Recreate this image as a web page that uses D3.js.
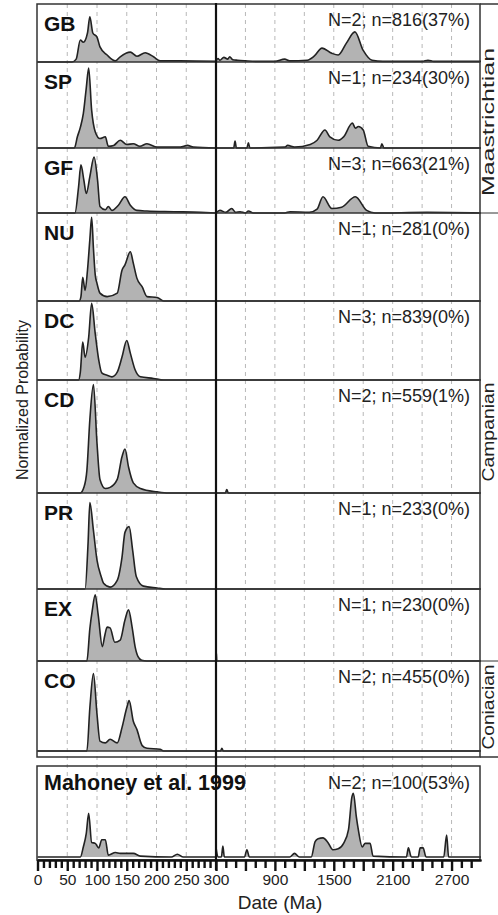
<!DOCTYPE html>
<html>
<head>
<meta charset="utf-8">
<script src="https://cdn.jsdelivr.net/npm/d3@7"></script>
<style>
  body { margin: 0; background: #fff; }
  svg { display: block; font-family: "Liberation Sans", Arial, sans-serif; }
</style>
</head>
<body>
<div id="chart"></div>
<script>
// Panel names, counts and stages
const panelNames = ["GB", "SP", "GF", "NU", "DC", "CD", "PR", "EX", "CO"];
const panelCounts = ["N=2; n=816(37%)", "N=1; n=234(30%)", "N=3; n=663(21%)",
  "N=1; n=281(0%)", "N=3; n=839(0%)", "N=2; n=559(1%)", "N=1; n=233(0%)",
  "N=1; n=230(0%)", "N=2; n=455(0%)"];
const stageNames = ["Maastrichtian", "Campanian", "Coniacian"];
const stageFirst = [0, 3, 8];
const stageLast = [2, 7, 8];
const refName = "Mahoney et al. 1999";
const refCount = "N=2; n=100(53%)";

// x ticks
const leftLabels = [0, 50, 100, 150, 200, 250, 300];
const rightLabels = [900, 1500, 2100, 2700];

// probability curves: [age (Ma), normalized height]
const gbLeft = [[0,0],[58,0],[65,0.05],[72,0.38],[77,0.34],[84,0.5],[88,0.78],[93,0.5],[100,0.43],[105,0.26],[117,0.12],[131,0.02],[139,0.09],[156,0.17],[167,0.1],[181,0.16],[195,0.09],[206,0.02],[240,0.02],[300,0.01]];
const gbRight = [[300,0.01],[320,0.06],[340,0.03],[380,0.08],[420,0.05],[440,0.09],[470,0.04],[520,0.03],[600,0.02],[720,0.01],[900,0.01],[1000,0.05],[1050,0.02],[1230,0.03],[1300,0.1],[1380,0.24],[1480,0.15],[1545,0.12],[1630,0.33],[1715,0.52],[1800,0.2],[1890,0.03],[2000,0.01],[2400,0.01],[2460,0.03],[2520,0.01],[3000,0.01]];
const spLeft = [[0,0],[62,0],[67,0.13],[72,0.24],[77,0.4],[82,0.7],[86,0.93],[91,0.44],[97,0.19],[105,0.11],[114,0.13],[119,0.02],[128,0.03],[139,0.09],[150,0.04],[161,0.05],[172,0.02],[184,0.05],[201,0.01],[240,0.01],[252,0.03],[262,0.01],[300,0]];
const spRight = [[300,0],[480,0],[494,0.08],[508,0],[615,0],[630,0.06],[645,0],[1000,0.01],[1030,0.03],[1100,0.01],[1260,0.04],[1330,0.09],[1410,0.21],[1460,0.13],[1545,0.09],[1600,0.13],[1690,0.29],[1720,0.23],[1750,0.25],[1800,0.21],[1850,0.02],[1975,0],[1990,0.05],[2010,0],[3000,0]];
const gfLeft = [[0,0],[63,0],[69,0.4],[73,0.74],[78,0.5],[82,0.3],[88,0.56],[95,0.86],[101,0.5],[105,0.1],[114,0.05],[119,0.1],[125,0.04],[136,0.12],[147,0.25],[156,0.12],[167,0.04],[184,0.03],[229,0.02],[274,0.01],[300,0]];
const gfRight = [[300,0],[340,0.04],[400,0.01],[460,0.07],[500,0.01],[545,0.02],[600,0],[630,0.03],[680,0],[1000,0],[1055,0.02],[1250,0.01],[1330,0.06],[1390,0.25],[1480,0.07],[1580,0.09],[1720,0.25],[1835,0.04],[1920,0],[2450,0.01],[3000,0]];
const nuLeft = [[0,0],[70,0],[73,0.05],[76,0.27],[80,0.12],[84,0.35],[88,0.7],[91,0.95],[94,0.6],[97,0.3],[100,0.2],[105,0.09],[117,0.05],[134,0.09],[142,0.35],[147,0.41],[156,0.56],[161,0.43],[167,0.26],[176,0.16],[184,0.05],[201,0.04],[212,0],[300,0]];
const nuRight = [[300,0],[3000,0]];
const dcLeft = [[0,0],[69,0],[72,0.1],[76,0.48],[80,0.29],[86,0.54],[91,0.97],[97,0.59],[103,0.25],[108,0.09],[117,0.06],[125,0.04],[134,0.1],[142,0.29],[150,0.5],[156,0.34],[164,0.13],[173,0.04],[195,0.02],[212,0],[300,0]];
const dcRight = [[300,0],[3000,0]];
const cdLeft = [[0,0],[72,0],[78,0.05],[83,0.2],[88,0.65],[94,0.96],[100,0.44],[105,0.12],[114,0.04],[122,0.05],[134,0.12],[142,0.32],[147,0.39],[153,0.23],[161,0.09],[173,0.04],[201,0.01],[220,0],[300,0]];
const cdRight = [[300,0],[395,0],[410,0.03],[425,0],[3000,0]];
const prLeft = [[0,0],[80,0],[85,0.48],[88,0.9],[94,0.61],[100,0.3],[107,0.13],[111,0.06],[122,0.02],[134,0.09],[142,0.33],[147,0.59],[154,0.65],[160,0.4],[166,0.13],[178,0.03],[201,0.01],[215,0],[300,0]];
const prRight = [[300,0],[3000,0]];
const exLeft = [[0,0],[83,0],[88,0.45],[92,0.7],[97,0.92],[102,0.64],[109,0.2],[113,0.35],[117,0.47],[122,0.46],[130,0.26],[139,0.29],[147,0.57],[153,0.71],[159,0.47],[164,0.2],[169,0.06],[175,0.01],[184,0],[300,0]];
const exRight = [[300,0],[303,0.12],[308,0],[3000,0]];
const coLeft = [[0,0],[83,0],[88,0.48],[94,0.86],[100,0.41],[105,0.11],[114,0.09],[122,0.13],[134,0.09],[142,0.26],[150,0.48],[154,0.56],[161,0.33],[167,0.24],[176,0.06],[184,0.03],[206,0.02],[212,0],[300,0]];
const coRight = [[300,0],[345,0],[360,0.03],[375,0],[3000,0]];
const mahLeft = [[0,0],[72,0],[77,0.11],[82,0.26],[86,0.48],[91,0.16],[97,0.15],[103,0.1],[108,0.19],[114,0.19],[119,0.02],[131,0.05],[139,0.04],[161,0.04],[173,0.01],[225,0],[235,0.03],[245,0],[300,0]];
const mahRight = [[300,0.11],[320,0],[355,0],[370,0.12],[385,0],[590,0],[615,0.08],[640,0],[1050,0],[1100,0.04],[1150,0],[1270,0],[1310,0.17],[1340,0.2],[1390,0.21],[1440,0.16],[1490,0.08],[1545,0.09],[1600,0.15],[1650,0.3],[1685,0.66],[1700,0.7],[1730,0.44],[1750,0.3],[1790,0.11],[1820,0.15],[1870,0.15],[1900,0.01],[2240,0],[2260,0.1],[2290,0],[2360,0],[2380,0.1],[2410,0.1],[2440,0],[2620,0],[2650,0.24],[2670,0],[3000,0]];

const leftSeries = [gbLeft, spLeft, gfLeft, nuLeft, dcLeft, cdLeft, prLeft, exLeft, coLeft];
const rightSeries = [gbRight, spRight, gfRight, nuRight, dcRight, cdRight, prRight, exRight, coRight];

// Layout
const width = 498, height = 915;
const x0 = 37, xDiv = 216, x1 = 481, frameRight = 480, stageRight = 498;
const panelEdges = [4, 62, 148, 213, 301, 380, 493, 589, 661, 757];
const refTop = 766, refBase = 857, axisY = 860;

const xLeft = d3.scaleLinear().domain([0, 300]).range([x0 + 0.5, xDiv]);
const xRight = d3.scaleLinear().domain([300, 3000]).range([xDiv, x1]);

const svg = d3.select("#chart").append("svg")
  .attr("width", width).attr("height", height);

// Dashed grid lines
const grid = svg.append("g").attr("stroke", "#b8b8b8").attr("stroke-width", 1)
  .attr("stroke-dasharray", "4,4");
d3.range(50, 300, 50).forEach(v => {
  grid.append("line").attr("x1", xLeft(v)).attr("x2", xLeft(v))
    .attr("y1", panelEdges[0]).attr("y2", axisY);
});
d3.range(600, 3000, 300).forEach(v => {
  grid.append("line").attr("x1", xRight(v)).attr("x2", xRight(v))
    .attr("y1", panelEdges[0]).attr("y2", axisY);
});

function drawCurves(g, left, right, top, base) {
  const y = d3.scaleLinear().domain([0, 1]).range([base, top]);
  const areaL = d3.area().x(d => xLeft(d[0])).y0(base).y1(d => y(d[1])).curve(d3.curveMonotoneX);
  const lineL = d3.line().x(d => xLeft(d[0])).y(d => y(d[1])).curve(d3.curveMonotoneX);
  const areaR = d3.area().x(d => xRight(d[0])).y0(base).y1(d => y(d[1])).curve(d3.curveMonotoneX);
  const lineR = d3.line().x(d => xRight(d[0])).y(d => y(d[1])).curve(d3.curveMonotoneX);
  [[left, areaL, lineL], [right, areaR, lineR]].forEach(([data, a, l]) => {
    g.append("path").attr("d", a(data)).attr("fill", "#b3b3b3");
    g.append("path").attr("d", l(data)).attr("fill", "none")
      .attr("stroke", "#222").attr("stroke-width", 1.6).attr("stroke-linejoin", "round");
  });
}

// Upper panels
panelNames.forEach((name, i) => {
  const top = panelEdges[i];
  let base = panelEdges[i + 1];
  if (i === panelNames.length - 1) base = base - 6;
  const g = svg.append("g");
  drawCurves(g, leftSeries[i], rightSeries[i], top, base);
  if (i === panelNames.length - 1) {
    g.append("line").attr("x1", x0).attr("x2", frameRight).attr("y1", base).attr("y2", base)
      .attr("stroke", "#333").attr("stroke-width", 1.5);
  }
  g.append("text").attr("x", 44).attr("y", top + 27)
    .attr("font-size", 21).attr("font-weight", "bold").attr("fill", "#111").text(name);
  g.append("text").attr("x", 470).attr("y", top + 22).attr("text-anchor", "end")
    .attr("font-size", 18).attr("fill", "#222").text(panelCounts[i]);
});

// Reference panel
const gRef = svg.append("g");
drawCurves(gRef, mahLeft, mahRight, refTop, refBase);
gRef.append("text").attr("x", 44).attr("y", refTop + 24)
  .attr("font-size", 21.5).attr("font-weight", "bold").attr("fill", "#111").text(refName);
gRef.append("text").attr("x", 470).attr("y", refTop + 23).attr("text-anchor", "end")
  .attr("font-size", 18).attr("fill", "#222").text(refCount);

// Frames
const frame = svg.append("g").attr("stroke", "#333").attr("stroke-width", 1.5).attr("fill", "none");
frame.append("rect").attr("x", x0).attr("y", panelEdges[0])
  .attr("width", frameRight - x0).attr("height", panelEdges[9] - panelEdges[0]);
panelEdges.slice(1, 9).forEach(e => {
  frame.append("line").attr("x1", x0).attr("x2", frameRight).attr("y1", e).attr("y2", e);
});
frame.append("rect").attr("x", x0).attr("y", refTop)
  .attr("width", frameRight - x0).attr("height", axisY - refTop);
// stage column
frame.append("line").attr("x1", frameRight).attr("x2", stageRight + 2)
  .attr("y1", panelEdges[0]).attr("y2", panelEdges[0]);
frame.append("line").attr("x1", frameRight).attr("x2", stageRight + 2)
  .attr("y1", panelEdges[9]).attr("y2", panelEdges[9]);
const stageCenters = [122, 432, 707];
const stageLengths = [148, 99, 85];
stageNames.forEach((s, i) => {
  const top = panelEdges[stageFirst[i]];
  if (i > 0) {
    frame.append("line").attr("x1", frameRight).attr("x2", stageRight + 2)
      .attr("y1", top).attr("y2", top).attr("stroke-width", 1);
  }
  svg.append("text")
    .attr("transform", `translate(494,${stageCenters[i]}) rotate(-90)`)
    .attr("text-anchor", "middle").attr("font-size", 16.5).attr("fill", "#222")
    .attr("textLength", stageLengths[i]).attr("lengthAdjust", "spacingAndGlyphs")
    .text(s);
});

// Break divider
svg.append("line").attr("x1", xDiv).attr("x2", xDiv)
  .attr("y1", panelEdges[0] - 1).attr("y2", axisY + 10)
  .attr("stroke", "#111").attr("stroke-width", 2.2);

// Axes
function addAxis(scale, values, size, labels) {
  const ax = d3.axisBottom(scale).tickValues(values).tickSize(size).tickSizeOuter(0)
    .tickFormat(d => labels.includes(d) ? d : "");
  const g = svg.append("g").attr("transform", `translate(0,${axisY})`).call(ax);
  g.select(".domain").attr("stroke", "#111").attr("stroke-width", 2);
  g.selectAll(".tick line").attr("stroke", "#111").attr("stroke-width", 2.4);
  g.selectAll(".tick text").attr("font-size", 15.5).attr("fill", "#222")
    .attr("font-family", "Liberation Sans, Arial, sans-serif").attr("dy", "1.05em");
  return g;
}
addAxis(xLeft, d3.range(0, 301, 10).filter(v => v % 50 !== 0), 8, []);
addAxis(xLeft, leftLabels, 11, leftLabels).selectAll(".tick text").attr("y", 9);
addAxis(xRight, d3.range(400, 3000, 100).filter(v => v % 300 !== 0), 8, []);
addAxis(xRight, d3.range(600, 3000, 300), 11, rightLabels).selectAll(".tick text").attr("y", 9);

// Axis titles
svg.append("text").attr("x", 280).attr("y", 909).attr("text-anchor", "middle")
  .attr("font-size", 19).attr("fill", "#222").text("Date (Ma)");
svg.append("text")
  .attr("transform", `translate(28,400) rotate(-90)`)
  .attr("text-anchor", "middle").attr("font-size", 16).attr("fill", "#222")
  .text("Normalized Probability");
</script>
</body>
</html>
